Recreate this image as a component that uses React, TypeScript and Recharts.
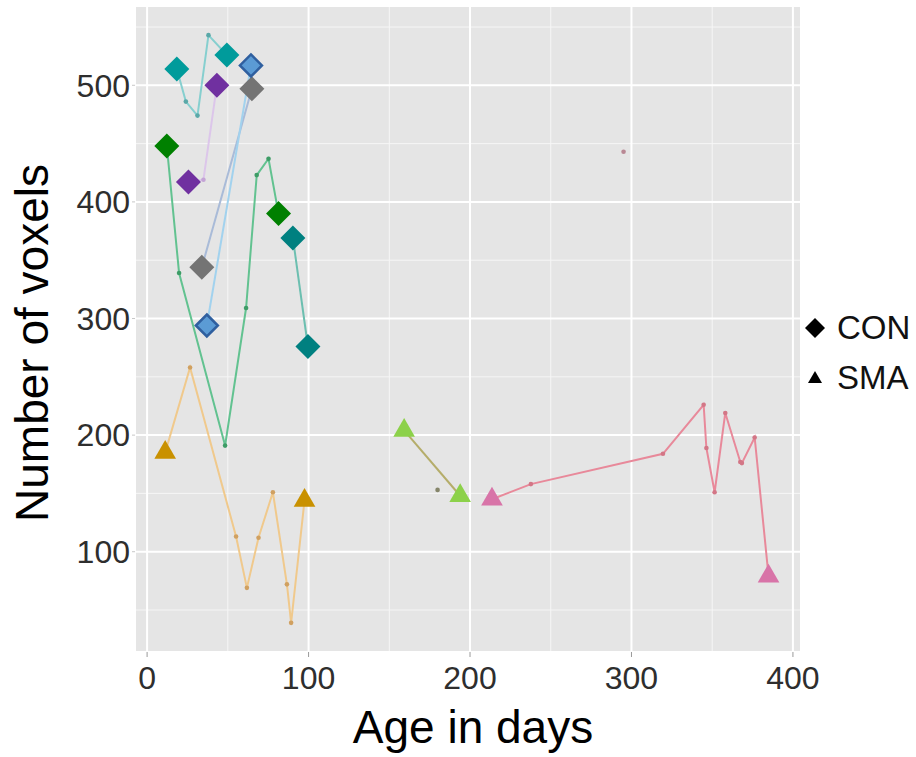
import { ScatterChart, Scatter, XAxis, YAxis, CartesianGrid, Legend, Label } from "recharts";

const FONT = '"Liberation Sans", Arial, Helvetica, sans-serif';

const xTicks = [0, 100, 200, 300, 400];
const yTicks = [100, 200, 300, 400, 500];
const xMinor = [50, 150, 250, 350];
const yMinor = [50, 150, 250, 350, 450, 550];

// CON subjects (age in days, number of voxels)
const tealAge = [18.4, 24.0, 31.2, 38.0, 49.4];
const tealVox = [514, 486, 474, 543, 526];
const purpleAge = [25.6, 34.9, 43.2];
const purpleVox = [417, 419, 500];
const blueAge = [37.0, 64.3];
const blueVox = [294, 517];
const greyAge = [33.9, 64.9];
const greyVox = [344, 497];
const greenAge = [12.2, 19.8, 48.3, 61.3, 67.9, 75.2, 81.4];
const greenVox = [448, 339, 191, 309, 423, 437, 390];
const darkTealAge = [90.3, 99.6];
const darkTealVox = [369, 276];

// SMA subjects
const goldAge = [11.2, 26.6, 55.1, 61.8, 69.0, 77.9, 86.6, 89.2, 97.5];
const goldVox = [185, 258, 113, 69, 112, 151, 72, 39, 144];
const limeAge = [159.2, 193.9];
const limeVox = [204, 148];
const oliveAge = [179.9];
const oliveVox = [153];
const pinkAge = [213.6, 237.7, 319.5, 344.7, 346.4, 351.5, 358.1, 367.4, 368.4, 376.3, 384.9];
const pinkVox = [145, 158, 184, 226, 189, 151, 219, 177, 176, 198, 79];
const roseAge = [295.1];
const roseVox = [443];

type Subject = {
  id: string;
  group: "CON" | "SMA";
  age: number[];
  vox: number[];
  fill: string;
  edge?: string;
  line: string;
  dot: string;
  marker: boolean;
};

const subjects: Subject[] = [
  { id: "teal", group: "CON", age: tealAge, vox: tealVox, fill: "#009b9b", line: "#86cfcf", dot: "#5aa8a8", marker: true },
  { id: "purple", group: "CON", age: purpleAge, vox: purpleVox, fill: "#7030a0", line: "#dcc6ea", dot: "#c4a4d6", marker: true },
  { id: "grey", group: "CON", age: greyAge, vox: greyVox, fill: "#747474", line: "#a9bbd8", dot: "#8c9cb8", marker: true },
  { id: "blue", group: "CON", age: blueAge, vox: blueVox, fill: "#5b9bd5", edge: "#2f5f9f", line: "#a2d2ee", dot: "#80b8dc", marker: true },
  { id: "green", group: "CON", age: greenAge, vox: greenVox, fill: "#008000", line: "#62c290", dot: "#3d9c66", marker: true },
  { id: "darkteal", group: "CON", age: darkTealAge, vox: darkTealVox, fill: "#008080", line: "#6cbfb0", dot: "#4aa090", marker: true },
  { id: "gold", group: "SMA", age: goldAge, vox: goldVox, fill: "#c99100", line: "#f0c98c", dot: "#d0a060", marker: true },
  { id: "lime", group: "SMA", age: limeAge, vox: limeVox, fill: "#8cd14a", line: "#b5ad6a", dot: "#9a9456", marker: true },
  { id: "olive", group: "SMA", age: oliveAge, vox: oliveVox, fill: "#8a8a60", line: "none", dot: "#85856a", marker: false },
  { id: "pink", group: "SMA", age: pinkAge, vox: pinkVox, fill: "#d874a8", line: "#e8899a", dot: "#d37686", marker: true },
  { id: "rose", group: "SMA", age: roseAge, vox: roseVox, fill: "#c08090", line: "none", dot: "#b98894", marker: false },
];

const toPoints = (s: Subject) => s.age.map((a, i) => ({ age: a, vox: s.vox[i] }));

function Diamond({ cx, cy, fill, edge }: { cx: number; cy: number; fill: string; edge?: string }) {
  const r = edge ? 11 : 12.5;
  return (
    <polygon
      points={`${cx},${cy - r} ${cx + r},${cy} ${cx},${cy + r} ${cx - r},${cy}`}
      fill={fill}
      stroke={edge ?? "none"}
      strokeWidth={edge ? 2.5 : 0}
    />
  );
}

function Triangle({ cx, cy, fill }: { cx: number; cy: number; fill: string }) {
  const r = 12.5;
  const hx = r * 0.866;
  return (
    <polygon
      points={`${cx},${cy - r} ${cx + hx},${cy + r / 2} ${cx - hx},${cy + r / 2}`}
      fill={fill}
    />
  );
}

function KeyBox() {
  const row = { display: "flex", alignItems: "center", height: 50 } as const;
  return (
    <div style={{ fontFamily: FONT, fontSize: 33, color: "#111" }}>
      <div style={row}>
        <svg width={24} height={24}>
          <polygon points="12,2 22,12 12,22 2,12" fill="#000" />
        </svg>
        <span style={{ marginLeft: 10 }}>CON</span>
      </div>
      <div style={row}>
        <svg width={24} height={24}>
          <polygon points="12,5 19,17 5,17" fill="#000" />
        </svg>
        <span style={{ marginLeft: 10 }}>SMA</span>
      </div>
    </div>
  );
}

function YTitle({ viewBox }: { viewBox?: { y: number; height: number } }) {
  const cy = (viewBox?.y ?? 0) + (viewBox?.height ?? 0) / 2 + 14;
  return (
    <text
      x={48}
      y={cy}
      transform={`rotate(-90, 48, ${cy})`}
      textAnchor="middle"
      fontFamily={FONT}
      fontSize={46}
      fill="#000"
    >
      Number of voxels
    </text>
  );
}

export default function App() {
  return (
    <div style={{ position: "absolute", left: 0, top: 0, width: 916, height: 757, background: "#fff" }}>
      <ScatterChart width={916} height={757} margin={{ top: 6, right: 115, bottom: 0, left: 0 }}>
        <CartesianGrid
          fill="#e5e5e5"
          stroke="#f6f6f6"
          strokeWidth={1}
          horizontalValues={yMinor}
          verticalValues={xMinor}
        />
        <CartesianGrid stroke="#ffffff" strokeWidth={2} fill="none" />
        <XAxis
          type="number"
          dataKey="age"
          domain={[-7.5, 405]}
          ticks={xTicks}
          allowDataOverflow
          height={105}
          axisLine={false}
          tickSize={5}
          tickMargin={9}
          tickLine={{ stroke: "#9a9a9a" }}
          tick={{ fill: "#2e2e2e", fontSize: 32, fontFamily: FONT }}
        >
          <Label
            value="Age in days"
            position="insideBottom"
            offset={14}
            dx={5}
            style={{ fontFamily: FONT, fontSize: 46, fill: "#000" }}
          />
        </XAxis>
        <YAxis
          type="number"
          dataKey="vox"
          domain={[14, 568]}
          ticks={yTicks}
          allowDataOverflow
          width={135}
          axisLine={false}
          tickSize={3}
          tickMargin={2}
          tickLine={{ stroke: "#c8c8c8" }}
          tick={{ fill: "#2e2e2e", fontSize: 32, fontFamily: FONT }}
        >
          <Label content={<YTitle />} />
        </YAxis>
        {subjects.map((s) => (
          <Scatter
            key={`${s.id}-path`}
            data={toPoints(s)}
            line={s.line === "none" ? false : { stroke: s.line, strokeWidth: 2 }}
            isAnimationActive={false}
            shape={(p: any) => <circle cx={p.cx} cy={p.cy} r={2.3} fill={s.dot} />}
          />
        ))}
        {subjects
          .filter((s) => s.marker)
          .map((s) => {
            const pts = toPoints(s);
            const ends = pts.filter((_, i) => i === 0 || i === pts.length - 1);
            return (
              <Scatter
                key={`${s.id}-ends`}
                data={ends}
                isAnimationActive={false}
                shape={(p: any) =>
                  s.group === "CON" ? (
                    <Diamond cx={p.cx} cy={p.cy} fill={s.fill} edge={s.edge} />
                  ) : (
                    <Triangle cx={p.cx} cy={p.cy} fill={s.fill} />
                  )
                }
              />
            );
          })}
        <Legend
          layout="vertical"
          align="center"
          verticalAlign="middle"
          content={<KeyBox />}
          wrapperStyle={{ left: 803, top: 303, width: 113, bottom: "auto", right: "auto" }}
        />
      </ScatterChart>
    </div>
  );
}
